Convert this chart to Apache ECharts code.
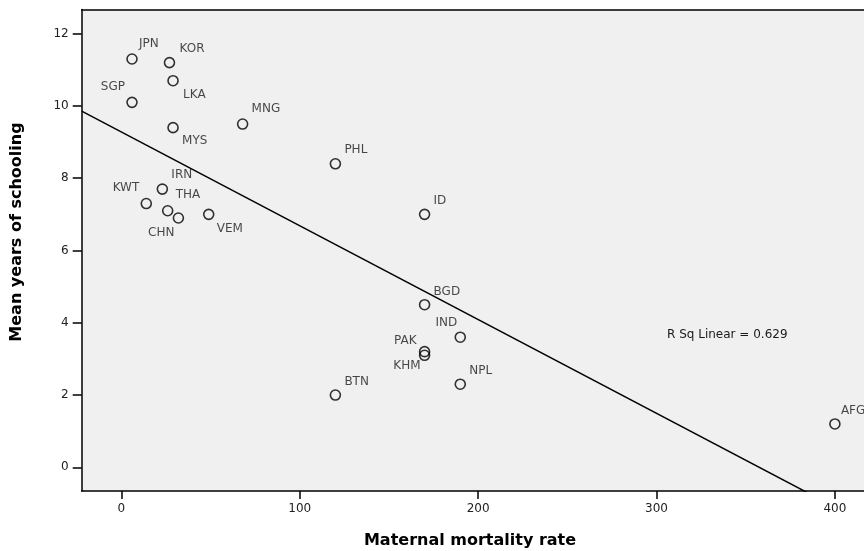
<!DOCTYPE html>
<html><head><meta charset="utf-8">
<script src="https://cdn.jsdelivr.net/npm/echarts@6/dist/echarts.min.js"></script>
<style>html,body{margin:0;padding:0;background:#fff}#c{width:864px;height:551px}</style>
</head><body><div id="c"></div>
<script>
// ---- data ----
const countries = ['JPN','KOR','LKA','SGP','MYS','MNG','IRN','KWT','THA','CHN','VEM','PHL','ID','BGD','IND','PAK','KHM','NPL','BTN','AFG'];
const mortality = [6, 27, 29, 6, 29, 68, 23, 14, 26, 32, 49, 120, 170, 170, 190, 170, 170, 190, 120, 400];
const schooling = [11.3, 11.2, 10.7, 10.1, 9.4, 9.5, 7.7, 7.3, 7.1, 6.9, 7.0, 8.4, 7.0, 4.5, 3.6, 3.2, 3.1, 2.3, 2.0, 1.2];
const xTicks = [0, 100, 200, 300, 400];
const yTicks = [0, 2, 4, 6, 8, 10, 12];
const xTitle = 'Maternal mortality rate';
const yTitle = 'Mean years of schooling';

// ---- layout (label offsets in px: dx, dy, align) ----
const labelLayout = {
  JPN:[7,-15,'left'], KOR:[10,-14,'left'], LKA:[10,14,'left'], SGP:[-7,-15,'right'],
  MYS:[9,13,'left'], MNG:[9,-15,'left'], IRN:[9,-14,'left'], KWT:[-7,-16,'right'],
  THA:[8,-16,'left'], CHN:[-4,15,'right'], VEM:[8,15,'left'], PHL:[9,-14,'left'],
  ID:[9,-13,'left'], BGD:[9,-13,'left'], IND:[-3,-14,'right'], PAK:[-8,-11,'right'],
  KHM:[-4,11,'right'], NPL:[9,-13,'left'], BTN:[9,-13,'left'], AFG:[6,-13,'left']
};
const gridLeft = 81.7, gridTop = 9.5, gridH = 481.5, gridW = 864 - 81.7;
const xMin = -22.2, xMax = xMin + gridW / 1.784, yMin = -0.656, yMax = 12.67;

// ---- linear fit ----
const n = mortality.length;
const mx = mortality.reduce((a,b)=>a+b,0)/n, my = schooling.reduce((a,b)=>a+b,0)/n;
let sxy=0, sxx=0, syy=0;
for (let i=0;i<n;i++){const dx=mortality[i]-mx, dy=schooling[i]-my; sxy+=dx*dy; sxx+=dx*dx; syy+=dy*dy;}
const slope = sxy/sxx, icpt = my - slope*mx, r2 = sxy*sxy/(sxx*syy);

const font = 'DejaVu Sans';
const pts = countries.map((c,i)=>{
  const L = labelLayout[c];
  return {name:c, value:[mortality[i], schooling[i]],
    label:{show:true, position:'inside', offset:[L[0],L[1]], align:L[2], verticalAlign:'middle',
      formatter:c, color:'#1a1a1a', fontSize:12, fontFamily:font}};
});

const chart = echarts.init(document.getElementById('c'), null, {renderer:'canvas'});
chart.setOption({
  animation:false,
  backgroundColor:'#fff',
  grid:{left:gridLeft, top:gridTop, width:gridW, height:gridH, show:true, backgroundColor:'#F0F0F0', borderWidth:0},
  xAxis:[{type:'value', min:xMin, max:xMax,
    axisLine:{show:true, onZero:false, lineStyle:{color:'#000', width:1.5}},
    axisTick:{show:true, length:8, customValues:xTicks, lineStyle:{color:'#000', width:1.5}},
    axisLabel:{customValues:xTicks, color:'#222', fontSize:12, fontFamily:font, margin:12},
    splitLine:{show:false}},
   {type:'value', position:'top', min:xMin, max:xMax,
    axisLine:{show:true, onZero:false, lineStyle:{color:'#000', width:1.5}},
    axisTick:{show:false}, axisLabel:{show:false}, splitLine:{show:false}}],
  yAxis:{type:'value', min:yMin, max:yMax,
    axisLine:{show:true, onZero:false, lineStyle:{color:'#000', width:1.5}},
    axisTick:{show:true, length:9, customValues:yTicks, lineStyle:{color:'#000', width:1.5}},
    axisLabel:{customValues:yTicks, color:'#222', fontSize:12, fontFamily:font, margin:13},
    splitLine:{show:false}},
  graphic:[
    {type:'text', left:667, top:329, style:{text:'R Sq Linear = '+r2.toFixed(3), fill:'#1a1a1a', font:'12px "DejaVu Sans"'}},
    {type:'text', x:470, y:541, style:{text:xTitle, fill:'#000', font:'bold 16px "DejaVu Sans"', align:'center', verticalAlign:'middle'}},
    {type:'text', x:17, y:232, rotation:Math.PI/2, style:{text:yTitle, fill:'#000', font:'bold 16px "DejaVu Sans"', align:'center', verticalAlign:'middle'}}
  ],
  series:[
    {type:'line', data:[[xMin, icpt+slope*xMin],[xMax, icpt+slope*xMax]], symbol:'none', clip:true,
      lineStyle:{color:'#000', width:1.5}, silent:true, z:2},
    {type:'scatter', data:pts, symbol:'circle', symbolSize:10,
      itemStyle:{color:'rgba(0,0,0,0)', borderColor:'#000', borderWidth:1.6}, z:3}
  ]
});
</script></body></html>
